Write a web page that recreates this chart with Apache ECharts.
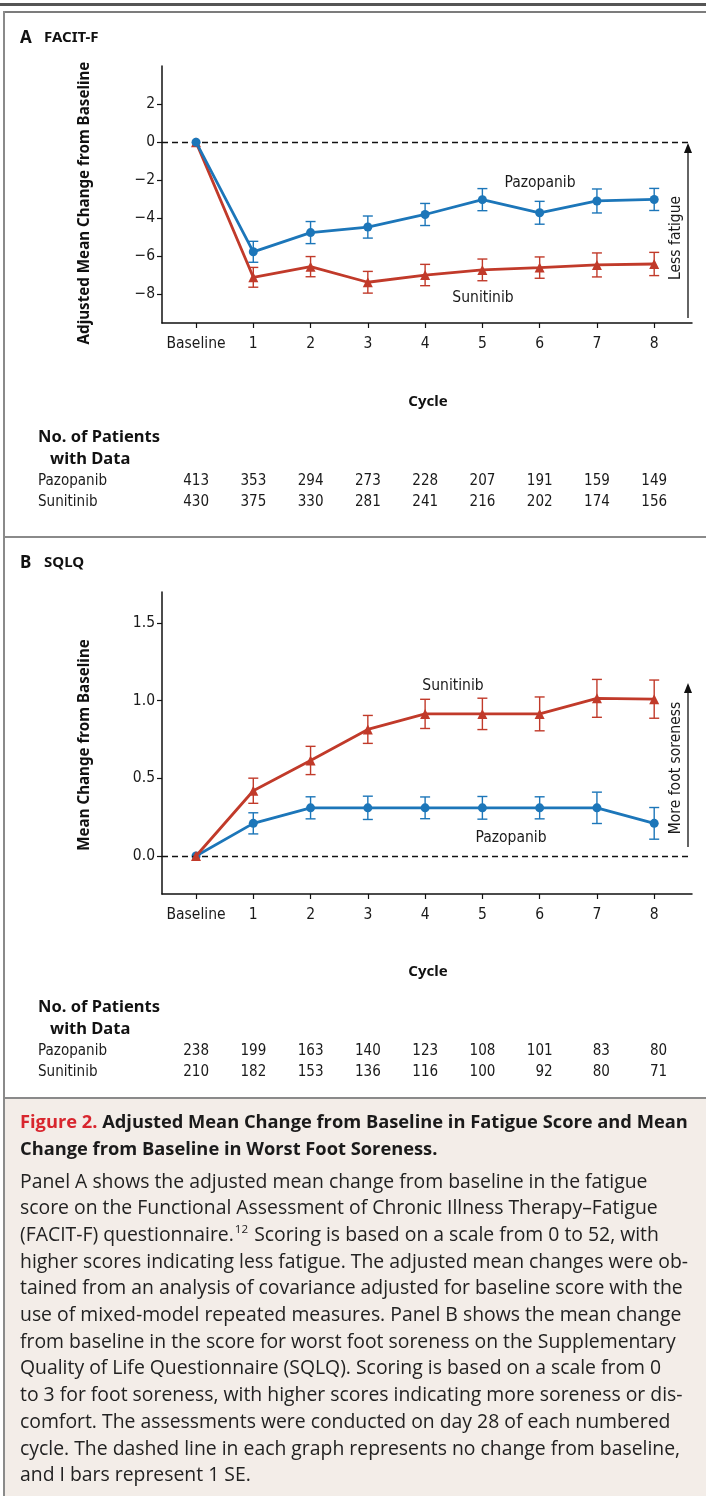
<!DOCTYPE html>
<html>
<head>
<meta charset="utf-8">
<script src="https://cdn.jsdelivr.net/npm/echarts@6/dist/echarts.min.js"></script>
<style>
html,body{margin:0;padding:0;background:#fff;}
#chart{width:706px;height:1496px;}
</style>
</head>
<body>
<div id="chart"></div>
<script>
// ---------- DATA ----------
const cycleLabels = ['Baseline','1','2','3','4','5','6','7','8'];
const cycleX = [0,1,2,3,4,5,6,7,8];

const facitTicks = [-8,-6,-4,-2,0,2];
const facitPazopanib   = [0, -5.76, -4.75, -4.46, -3.80, -3.02, -3.71, -3.09, -3.01];
const facitPazopanibSE = [0, 0.55, 0.58, 0.58, 0.58, 0.58, 0.60, 0.63, 0.58];
const facitSunitinib   = [0, -7.10, -6.54, -7.36, -6.98, -6.71, -6.59, -6.45, -6.40];
const facitSunitinibSE = [0, 0.52, 0.53, 0.57, 0.56, 0.57, 0.56, 0.63, 0.61];

const sqlqTicks = [0, 0.5, 1.0, 1.5];
const sqlqPazopanib   = [0, 0.21, 0.31, 0.31, 0.31, 0.31, 0.31, 0.31, 0.21];
const sqlqPazopanibSE = [0, 0.068, 0.071, 0.075, 0.070, 0.073, 0.071, 0.101, 0.102];
const sqlqSunitinib   = [0, 0.42, 0.615, 0.815, 0.915, 0.915, 0.915, 1.015, 1.01];
const sqlqSunitinibSE = [0, 0.081, 0.091, 0.090, 0.094, 0.101, 0.109, 0.122, 0.123];

const facitPatientsPazopanib = [413,353,294,273,228,207,191,159,149];
const facitPatientsSunitinib = [430,375,330,281,241,216,202,174,156];
const sqlqPatientsPazopanib  = [238,199,163,140,123,108,101,83,80];
const sqlqPatientsSunitinib  = [210,182,153,136,116,100,92,80,71];

const captionTitle = [
  'Adjusted Mean Change from Baseline in Fatigue Score and Mean',
  'Change from Baseline in Worst Foot Soreness.'
];
const captionBody = [
  'Panel A shows the adjusted mean change from baseline in the fatigue',
  'score on the Functional Assessment of Chronic Illness Therapy\u2013Fatigue',
  '(FACIT-F) questionnaire.',
  'higher scores indicating less fatigue. The adjusted mean changes were ob-',
  'tained from an analysis of covariance adjusted for baseline score with the',
  'use of mixed-model repeated measures. Panel B shows the mean change',
  'from baseline in the score for worst foot soreness on the Supplementary',
  'Quality of Life Questionnaire (SQLQ). Scoring is based on a scale from 0',
  'to 3 for foot soreness, with higher scores indicating more soreness or dis-',
  'comfort. The assessments were conducted on day 28 of each numbered',
  'cycle. The dashed line in each graph represents no change from baseline,',
  'and I bars represent 1 SE.'
];
const captionLine3Rest = ' Scoring is based on a scale from 0 to 52, with';

// ---------- STYLE / LAYOUT ----------
const BLUE = '#1c76b9';
const RED = '#c13a2a';
const chartFont = "'DejaVu Sans Condensed','Liberation Sans Narrow','Noto Sans',sans-serif";
const boldFont = "'Noto Sans','Open Sans',sans-serif";
const capFont = "'Open Sans','Noto Sans',sans-serif";

const ctx = document.createElement('canvas').getContext('2d');
function fit(text, family, weight, target){
  ctx.font = weight + ' 100px ' + family;
  return 100 * target / ctx.measureText(text).width;
}
function tw(text, family, weight, size){
  ctx.font = weight + ' ' + size + 'px ' + family;
  return ctx.measureText(text).width;
}

const tickSize = Math.min(15.5, fit('Baseline', chartFont, 'normal', 63));
const rowSize = Math.min(15.5, fit('Pazopanib', chartFont, 'normal', 69));
const ytitleSize = fit('Adjusted Mean Change from Baseline', boldFont, 'bold', 283);
const noSize = fit('No. of Patients', boldFont, 'bold', 122);
const bodySize = fit(captionBody[0], capFont, 'normal', 628);
const headSize = fit('Figure 2. ' + captionTitle[0], capFont, 'bold', 668);

const X_MIN = -0.594, X_MAX = 8.66;

function errData(xs, vals, se){
  const out = [];
  xs.forEach((x,i)=>{ if (se[i] > 0) out.push([x, vals[i]-se[i], vals[i]+se[i]]); });
  return out;
}
function errSeries(idx, data, color){
  return {
    type:'custom', xAxisIndex:idx, yAxisIndex:idx, data:data, z:3,
    encode:{x:0, y:[1,2]},
    renderItem:function(params, api){
      const x = api.value(0);
      const lo = api.coord([x, api.value(1)]);
      const hi = api.coord([x, api.value(2)]);
      const st = {stroke:color, lineWidth:1.4};
      return {type:'group', children:[
        {type:'line', shape:{x1:lo[0], y1:lo[1], x2:hi[0], y2:hi[1]}, style:st},
        {type:'line', shape:{x1:hi[0]-5, y1:hi[1], x2:hi[0]+5, y2:hi[1]}, style:st},
        {type:'line', shape:{x1:lo[0]-5, y1:lo[1], x2:lo[0]+5, y2:lo[1]}, style:st}
      ]};
    }
  };
}
function lineSeries(idx, vals, color, symbol, size, z){
  return {
    type:'line', xAxisIndex:idx, yAxisIndex:idx, z:z,
    data: cycleX.map((x,i)=>[x, vals[i]]),
    symbol:symbol, symbolSize:size, showSymbol:true,
    lineStyle:{color:color, width:2.8},
    itemStyle:{color:color},
    emphasis:{disabled:true}, animation:false
  };
}
function zeroLine(idx){
  return {
    type:'line', xAxisIndex:idx, yAxisIndex:idx, data:[], z:1,
    markLine:{silent:true, symbol:'none', label:{show:false},
      lineStyle:{color:'#111', type:[6,4], width:1.4},
      data:[{yAxis:0}]}
  };
}
function xAxis(gi){
  return {
    type:'value', gridIndex:gi, min:X_MIN, max:X_MAX,
    axisLine:{show:true, onZero:false, lineStyle:{color:'#111', width:1.5}},
    axisTick:{show:true, customValues:cycleX, length:5, lineStyle:{color:'#111', width:1.2}},
    axisLabel:{customValues:cycleX, margin:13, color:'#1a1a1a', fontFamily:chartFont, fontSize:tickSize,
      formatter:v=>cycleLabels[Math.round(v)]},
    splitLine:{show:false}
  };
}
function yAxis(gi, min, max, ticks, fmt){
  return {
    type:'value', gridIndex:gi, min:min, max:max,
    axisLine:{show:true, onZero:false, lineStyle:{color:'#111', width:1.5}},
    axisTick:{show:true, customValues:ticks, length:5, lineStyle:{color:'#111', width:1.2}},
    axisLabel:{customValues:ticks, margin:7, color:'#1a1a1a', fontFamily:chartFont, fontSize:tickSize, formatter:fmt},
    splitLine:{show:false}
  };
}

const chart = echarts.init(document.getElementById('chart'), null, {renderer:'canvas'});

const option = {
  animation:false,
  backgroundColor:'#fff',
  grid:[
    {left:162, top:66, width:530, height:257},
    {left:162, top:592, width:530, height:302}
  ],
  xAxis:[xAxis(0), xAxis(1)],
  yAxis:[
    yAxis(0, -9.5, 4, facitTicks, v=>String(v).replace('-','\u2212')),
    yAxis(1, -0.245, 1.70, sqlqTicks, v=>v.toFixed(1))
  ],
  series:[
    zeroLine(0), zeroLine(1),
    errSeries(0, errData(cycleX, facitSunitinib, facitSunitinibSE), RED),
    lineSeries(0, facitSunitinib, RED, 'triangle', 10, 4),
    errSeries(0, errData(cycleX, facitPazopanib, facitPazopanibSE), BLUE),
    lineSeries(0, facitPazopanib, BLUE, 'circle', 9, 5),
    errSeries(1, errData(cycleX, sqlqPazopanib, sqlqPazopanibSE), BLUE),
    lineSeries(1, sqlqPazopanib, BLUE, 'circle', 9, 4),
    errSeries(1, errData(cycleX, sqlqSunitinib, sqlqSunitinibSE), RED),
    lineSeries(1, sqlqSunitinib, RED, 'triangle', 10, 5)
  ]
};
chart.setOption(option);

// ---------- GRAPHIC (frames, titles, tables, caption) ----------
const g = [];
function txt(text, x, y, font, fill, align, vAlign, rot){
  const e = {type:'text', x:x, y:y, z:10, silent:true,
    style:{text:text, font:font, fill:fill||'#111', align:align||'left', verticalAlign:vAlign||'middle'}};
  if (rot) e.rotation = rot;
  g.push(e);
}
function rect(x,y,w,h,fill,z){
  g.push({type:'rect', shape:{x:x,y:y,width:w,height:h}, style:{fill:fill}, z:z||0, silent:true});
}
// caption background and frames
rect(5, 1099, 701, 397, '#f3ede8', 0);
rect(0, 3, 706, 3, '#555', 1);
rect(3, 11, 706, 2, '#7c7c7c', 1);
rect(3, 11, 2, 1485, '#8a8a8a', 1);
rect(3, 536, 703, 2, '#8a8a8a', 1);
rect(3, 1097, 703, 2, '#8a8a8a', 1);

// panel titles
txt('A', 20, 38, 'bold 17px ' + boldFont, '#111');
txt('FACIT-F', 44, 38, 'bold 15px ' + boldFont, '#111');
txt('B', 20, 563, 'bold 17px ' + boldFont, '#111');
txt('SQLQ', 44, 563, 'bold 15px ' + boldFont, '#111');

// y titles
const ytFont = 'bold ' + ytitleSize.toFixed(2) + 'px ' + boldFont;
txt('Adjusted Mean Change from Baseline', 85, 203, ytFont, '#111', 'center', 'middle', Math.PI/2);
txt('Mean Change from Baseline', 85, 745, ytFont, '#111', 'center', 'middle', Math.PI/2);
// x titles
txt('Cycle', 428, 402, 'bold 15px ' + boldFont, '#111', 'center');
txt('Cycle', 428, 972, 'bold 15px ' + boldFont, '#111', 'center');

// in-plot labels
const lblFont = (rowSize*1.03).toFixed(2) + 'px ' + chartFont;
txt('Pazopanib', 540, 183, lblFont, '#1a1a1a', 'center');
txt('Sunitinib', 483, 298, lblFont, '#1a1a1a', 'center');
txt('Sunitinib', 453, 686, lblFont, '#1a1a1a', 'center');
txt('Pazopanib', 511, 838, lblFont, '#1a1a1a', 'center');
txt('Less fatigue', 676, 238, lblFont, '#1a1a1a', 'center', 'middle', Math.PI/2);
txt('More foot soreness', 676, 768, lblFont, '#1a1a1a', 'center', 'middle', Math.PI/2);
// arrows
function arrow(x, yBottom, yTop){
  g.push({type:'line', shape:{x1:x, y1:yBottom, x2:x, y2:yTop+8}, style:{stroke:'#111', lineWidth:1.3}, z:10, silent:true});
  g.push({type:'polygon', shape:{points:[[x-4,yTop+10],[x+4,yTop+10],[x,yTop]]}, style:{fill:'#111'}, z:10, silent:true});
}
arrow(688, 318, 143);
arrow(688, 847, 683);

// patient tables
const nFont = 'bold ' + noSize.toFixed(2) + 'px ' + boldFont;
const rFont = rowSize.toFixed(2) + 'px ' + chartFont;
function table(yTop, pazo, suni, gi){
  txt('No. of Patients', 38, yTop, nFont, '#111');
  txt('with Data', 50, yTop+22, nFont, '#111');
  txt('Pazopanib', 38, yTop+44, rFont, '#1a1a1a');
  txt('Sunitinib', 38, yTop+65, rFont, '#1a1a1a');
  cycleX.forEach((x,i)=>{
    const px = chart.convertToPixel({xAxisIndex:gi}, x) + 13;
    txt(String(pazo[i]), px, yTop+44, rFont, '#1a1a1a', 'right');
    txt(String(suni[i]), px, yTop+65, rFont, '#1a1a1a', 'right');
  });
}
table(437, facitPatientsPazopanib, facitPatientsSunitinib, 0);
table(1007, sqlqPatientsPazopanib, sqlqPatientsSunitinib, 1);

// caption
const hFont = 'bold ' + headSize.toFixed(2) + 'px ' + capFont;
const fig = 'Figure 2.';
txt(fig, 20, 1123, hFont, '#d8262e');
const figW = tw(fig + ' ', capFont, 'bold', headSize);
txt(captionTitle[0], 20 + figW, 1123, hFont, '#1a1a1a');
txt(captionTitle[1], 20, 1150, hFont, '#1a1a1a');
const bFont = bodySize.toFixed(2) + 'px ' + capFont;
captionBody.forEach((line, i)=>{
  const y = 1182 + i*26.7;
  txt(line, 20, y, bFont, '#222');
  if (i === 2) {
    const w = tw(line, capFont, 'normal', bodySize);
    const supSize = bodySize*0.6;
    txt('12', 20 + w + 1, y - 6, supSize.toFixed(2) + 'px ' + capFont, '#222');
    const w2 = tw('12', capFont, 'normal', supSize);
    txt(captionLine3Rest, 20 + w + 2 + w2, y, bFont, '#222');
  }
});

chart.setOption({graphic:{elements:g}});
</script>
</body>
</html>
